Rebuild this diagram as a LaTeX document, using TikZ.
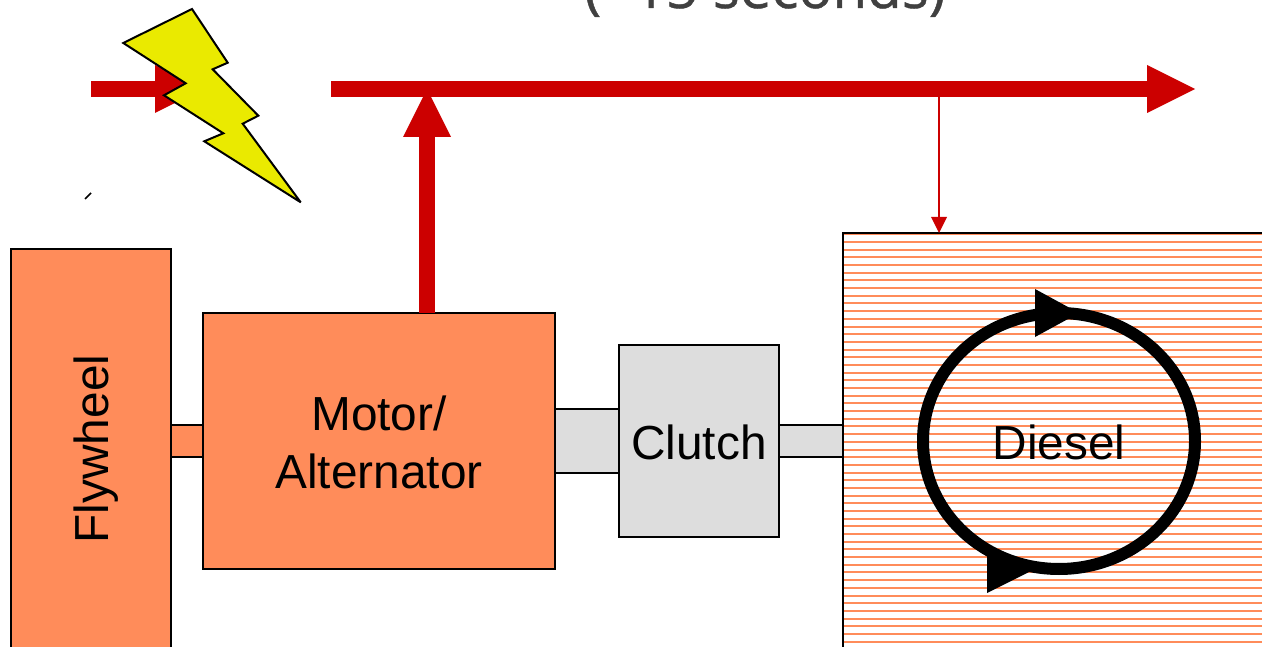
\documentclass[tikz,border=0pt]{standalone}
\usepackage{fontspec}
\setmainfont{Liberation Sans}
\newfontfamily\topfont[FakeBold=0.8]{Open Sans}
\usetikzlibrary{arrows.meta,shapes.geometric}
\definecolor{busred}{RGB}{204,0,0}
\definecolor{unitorange}{RGB}{255,140,90}
\definecolor{unitgrey}{RGB}{221,221,221}
\definecolor{captiongrey}{RGB}{64,64,64}
\definecolor{boltyellow}{RGB}{234,234,0}
\tikzset{
  x=1pt,y=-1pt,
  unitbox/.style={draw=black,line width=2pt,inner sep=0pt,outer sep=0pt},
  orangebox/.style={unitbox,fill=unitorange},
  greybox/.style={unitbox,fill=unitgrey},
  label48/.style={inner sep=0pt,outer sep=0pt,align=center,font=\fontsize{47.8}{58}\selectfont},
  busarrow/.style={busred,line width=16pt,-{Triangle[length=48pt,width=48pt,line width=0pt]}},
  feedarrow/.style={busred,line width=2pt,-{Triangle[length=16pt,width=16pt,line width=0pt]}},
  hatchline/.style={unitorange,line width=2pt},
  turnhead/.style={fill=black,draw=none},
}
\begin{document}
\begin{tikzpicture}
\useasboundingbox (0,0) rectangle (1262,647);
\clip (0,0) rectangle (1262,647);
% caption cut by the top edge
\node[anchor=base,inner sep=0pt,text=captiongrey,font=\topfont\fontsize{56.5}{66}\selectfont] (caption) at (765,8) {(\char`\~15 seconds)};
% shafts
\node[orangebox,minimum width=32pt,minimum height=32pt] (shaftA) at (187,441) {};
\node[greybox,minimum width=64pt,minimum height=64pt] (shaftB) at (587,441) {};
\node[greybox,minimum width=64pt,minimum height=32pt] (shaftC) at (811,441) {};
% units
\node[orangebox,minimum width=160pt,minimum height=451pt] (flywheel) at (91,474.5) {};
\node[label48,rotate=90] (flywheelText) at (96,449) {Flywheel};
\node[orangebox,minimum width=352pt,minimum height=256pt] (motor) at (379,441) {};
\node[label48] (motorText) at (379,442) {Motor/\\Alternator};
\node[greybox,minimum width=160pt,minimum height=192pt] (clutch) at (699,441) {};
\node[label48] (clutchText) at (699,442) {Clutch};
% diesel
\node[draw=none,fill=white,minimum width=457pt,minimum height=467pt,inner sep=0pt,outer sep=0pt] (diesel) at (1071.5,466.5) {};
\begin{scope}
\clip (843,233) rectangle (1300,700);
\foreach \i in {0,...,53} {
  \pgfmathsetmacro\hy{round(234.3+7.686*\i)}
  \draw[hatchline] (843,\hy) -- (1300,\hy);
}
\end{scope}
\draw[black,line width=2pt] (diesel.south west) rectangle (diesel.north east);
\node[draw=black,line width=12pt,ellipse,minimum width=272pt,minimum height=256pt,inner sep=0pt,outer sep=0pt] (cycle) at (1059,441) {};
\node[label48] (dieselText) at (1059,442) {Diesel};
\path[turnhead] (1035,289) -- (1079,313) -- (1035,337) -- cycle;
\path[turnhead] (987,555) -- (1033,570) -- (987,593) -- cycle;
% power bus
\coordinate (inStart) at (91,89);
\coordinate (inEnd) at (203,89);
\coordinate (busStart) at (331,89);
\coordinate (busEnd) at (1195,89);
\coordinate (busJoin) at (427,89);
\coordinate (busTap) at (939,97);
\draw[busarrow] (inStart) -- (inEnd);
\draw[busarrow] (busJoin |- motor.north) -- (busJoin);
\draw[busarrow] (busStart) -- (busEnd);
\draw[feedarrow] (busTap) -- (busTap |- diesel.north);
% lightning bolt
\draw[fill=boltyellow,draw=black,line width=2pt,line join=miter,miter limit=4]
  (192,9) -- (227.7,62.7) -- (212.7,69.3) -- (258.3,115.7) -- (242.7,123.7) -- (300.7,202.3)
  -- (204.3,141.3) -- (223.3,133.3) -- (164,95.3) -- (185.7,83.3) -- (123.3,43) -- cycle;
% small tick
\coordinate (tickA) at (85,199);
\coordinate (tickB) at (91,193);
\draw[black,line width=1.6pt] (tickA) -- (tickB);
\end{tikzpicture}
\end{document}
